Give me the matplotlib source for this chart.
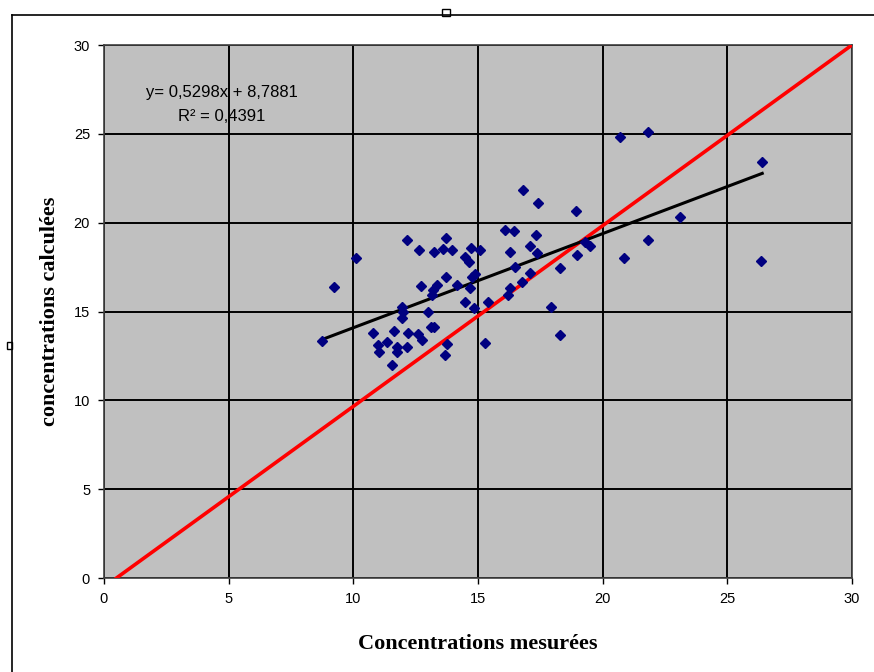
import numpy as np
import matplotlib
matplotlib.use('Agg')
import matplotlib.pyplot as plt
from matplotlib.lines import Line2D
from matplotlib.patches import Rectangle

mesurees = [8.73, 9.24, 10.09, 12.16, 12.64, 13.24, 13.70, 13.58, 13.97, 14.72,
            15.08, 14.48, 14.65, 14.88, 14.74, 13.71, 12.71, 13.34, 13.18, 13.14,
            14.14, 14.68, 11.94, 11.98, 11.94, 13.00, 14.47, 14.84, 15.41, 10.77,
            11.64, 12.20, 12.60, 12.74, 13.11, 13.24, 11.00, 11.36, 11.04, 11.74,
            11.74, 12.17, 11.57, 13.74, 13.67, 15.28,
            20.69, 21.80, 16.79, 17.41, 18.95, 23.10, 16.08, 16.45, 17.31, 17.08,
            17.35, 16.28, 19.30, 19.50, 18.99, 21.80, 20.85, 16.48, 18.28, 17.08,
            16.75, 16.28, 16.21, 17.92, 18.28, 26.40, 26.37]
calculees = [13.35, 16.36, 17.99, 19.00, 18.44, 18.35, 19.11, 18.53, 18.46, 18.59,
             18.46, 18.05, 17.80, 17.11, 16.92, 16.92, 16.45, 16.49, 16.21, 15.93,
             16.49, 16.30, 15.27, 14.99, 14.61, 14.99, 15.51, 15.17, 15.55, 13.80,
             13.92, 13.80, 13.71, 13.39, 14.14, 14.11, 13.11, 13.26, 12.74, 13.02,
             12.74, 13.02, 11.99, 13.15, 12.55, 13.24,
             24.84, 25.10, 21.83, 21.08, 20.67, 20.33, 19.58, 19.53, 19.30, 18.68,
             18.27, 18.36, 18.90, 18.70, 18.18, 19.02, 18.03, 17.52, 17.43, 17.18,
             16.68, 16.30, 15.93, 15.27, 13.67, 23.43, 17.84]

pente, origine = 0.5298, 8.7881
r2_text = "R² = 0,4391"
eq_text = "y= 0,5298x + 8,7881"
ref_x = [0.5, 30]
ref_y = [0, 30]
ticks = [0, 5, 10, 15, 20, 25, 30]

fig = plt.figure(figsize=(8.74, 6.72), dpi=100)
ax = fig.add_axes([104/874, 1 - 578/672, (852 - 104)/874, (578 - 45)/672])
ax.set_facecolor('#C0C0C0')

ax.set_xlim(0, 30)
ax.set_ylim(0, 30)
ax.set_xticks(ticks)
ax.set_yticks(ticks)
ax.grid(True, color='black', linewidth=1.4)
ax.set_axisbelow(True)
ax.tick_params(direction='out', length=4, width=1, labelsize=10.5, pad=6)
for lab in ax.get_xticklabels() + ax.get_yticklabels():
    lab.set_family('Liberation Sans')
for s in ax.spines.values():
    s.set_color('#404040')
    s.set_linewidth(1.2)

ax.plot(ref_x, ref_y, color='#FF0000', linewidth=2.6, zorder=3)
xt = np.array([min(mesurees), max(mesurees)])
ax.plot(xt, pente * xt + origine, color='black', linewidth=2.2, zorder=3)
ax.plot(mesurees, calculees, linestyle='none', marker='D', markersize=5.5,
        color='#000080', zorder=4)

ax.text(4.73, 27.35, eq_text, ha='center', va='center', fontsize=12,
        family='Liberation Sans')
ax.text(4.73, 26.0, r2_text, ha='center', va='center', fontsize=12,
        family='Liberation Sans')

ax.set_xlabel('Concentrations mesurées', family='Liberation Serif',
              fontweight='bold', fontsize=16, labelpad=20)
ax.set_ylabel('concentrations calculées', family='Liberation Serif',
              fontweight='bold', fontsize=16, labelpad=10)

# chart frame / selection handles
fig.add_artist(Line2D([12/874, 1], [1 - 15/672, 1 - 15/672], color='black', linewidth=1.2))
fig.add_artist(Line2D([12/874, 12/874], [0, 1 - 15/672], color='black', linewidth=1.2))
fig.add_artist(Rectangle((442/874, 1 - 16/672), 8/874, 7/672, fill=False,
                         edgecolor='black', linewidth=1))
fig.add_artist(Rectangle((7/874, 1 - 349/672), 5/874, 7/672, fill=False,
                         edgecolor='black', linewidth=1))

fig.savefig('out.png', dpi=100)
plt.close()
